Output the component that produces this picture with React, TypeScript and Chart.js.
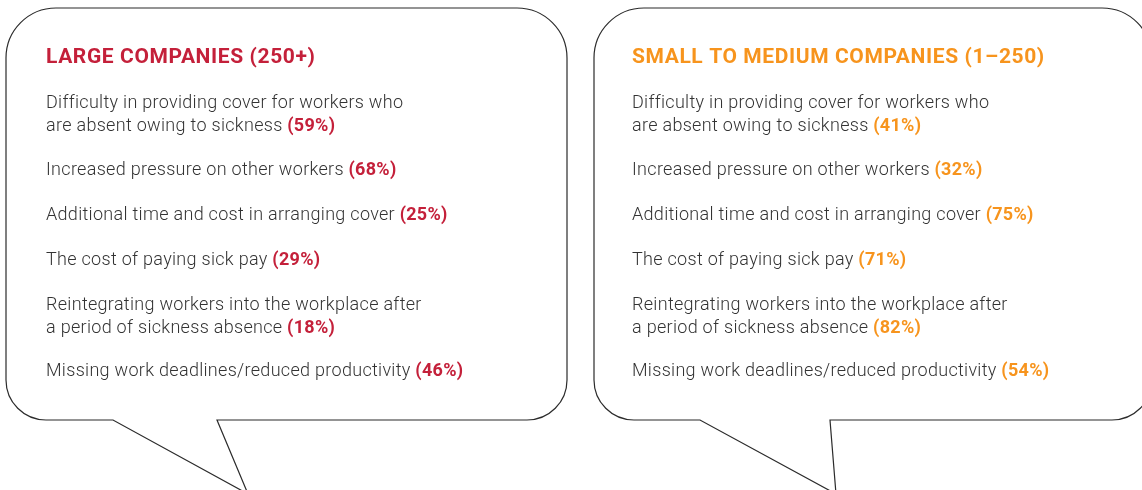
import React, { useEffect, useRef } from "react";
import { Chart, registerables } from "chart.js";

Chart.register(...registerables);

const groupTitles = ["LARGE COMPANIES (250+)", "SMALL TO MEDIUM COMPANIES (1\u2013250)"];
const itemLines: string[][] = [
  ["Difficulty in providing cover for workers who", "are absent owing to sickness"],
  ["Increased pressure on other workers"],
  ["Additional time and cost in arranging cover"],
  ["The cost of paying sick pay"],
  ["Reintegrating workers into the workplace after", "a period of sickness absence"],
  ["Missing work deadlines/reduced productivity"],
];
const largeValues = [59, 68, 25, 29, 18, 46];
const smeValues = [41, 32, 75, 71, 82, 54];
const groupColors = ["#c4203a", "#f7941d"];

const W = 1142;
const H = 490;

const bubblePlugin = {
  id: "bubbles",
  afterDraw(chart: any) {
    const ctx = chart.ctx as any;
    const sx = chart.scales.x;
    const sy = chart.scales.y;
    const px = (v: number) => sx.getPixelForValue(v);
    const py = (v: number) => sy.getPixelForValue(v);

    const bubbles = [
      { x0: 6, x1: 567, tl: 113, tr: 217, tipX: 248, textX: 46 },
      { x0: 594, x1: 1152, tl: 700, tr: 830, tipX: 836, textX: 632 },
    ];
    const y0 = 8, y1 = 420, rT = 50, rB = 40, tipY = 494;
    const seriesValues = [largeValues, smeValues];

    bubbles.forEach((b, gi) => {
      ctx.save();
      ctx.beginPath();
      ctx.moveTo(px(b.x0 + rT), py(y0));
      ctx.lineTo(px(b.x1 - rT), py(y0));
      ctx.arcTo(px(b.x1), py(y0), px(b.x1), py(y0 + rT), rT);
      ctx.lineTo(px(b.x1), py(y1 - rB));
      ctx.arcTo(px(b.x1), py(y1), px(b.x1 - rB), py(y1), rB);
      ctx.lineTo(px(b.tr), py(y1));
      ctx.lineTo(px(b.tipX), py(tipY));
      ctx.lineTo(px(b.tl), py(y1));
      ctx.lineTo(px(b.x0 + rB), py(y1));
      ctx.arcTo(px(b.x0), py(y1), px(b.x0), py(y1 - rB), rB);
      ctx.lineTo(px(b.x0), py(y0 + rT));
      ctx.arcTo(px(b.x0), py(y0), px(b.x0 + rT), py(y0), rT);
      ctx.closePath();
      ctx.fillStyle = "#ffffff";
      ctx.fill();
      ctx.lineWidth = 1.2;
      ctx.strokeStyle = "#2b2b2b";
      ctx.stroke();

      // title
      ctx.textBaseline = "alphabetic";
      ctx.textAlign = "left";
      ctx.fillStyle = groupColors[gi];
      ctx.font = "bold 21px Roboto";
      ctx.letterSpacing = "0.6px";
      ctx.fillText(groupTitles[gi], px(b.textX), py(63));

      // items
      const itemY = [108, 175, 220, 265, 310, 376];
      const lineGap = 23;
      ctx.letterSpacing = "0.3px";
      itemLines.forEach((lines, i) => {
        lines.forEach((ln, li) => {
          const y = py(itemY[i] + li * lineGap);
          ctx.font = "300 18px Roboto";
          ctx.fillStyle = "#333333";
          ctx.fillText(ln, px(b.textX), y);
          if (li === lines.length - 1) {
            const w = ctx.measureText(ln + " ").width;
            ctx.font = "bold 18px Roboto";
            ctx.fillStyle = groupColors[gi];
            ctx.fillText("(" + seriesValues[gi][i] + "%)", px(b.textX) + w, y);
          }
        });
      });
      ctx.restore();
    });
  },
};

export default function App() {
  const ref = useRef<HTMLCanvasElement>(null);
  useEffect(() => {
    document.body.style.margin = "0";
    const chart = new Chart(ref.current as HTMLCanvasElement, {
      type: "scatter",
      data: { datasets: [{ data: [], showLine: false }] },
      options: {
        animation: false,
        responsive: false,
        maintainAspectRatio: false,
        layout: { padding: 0 },
        plugins: { legend: { display: false }, tooltip: { enabled: false } },
        scales: {
          x: { type: "linear", min: 0, max: W, display: false },
          y: { type: "linear", min: 0, max: H, reverse: true, display: false },
        },
      },
      plugins: [bubblePlugin],
    } as any);
    return () => chart.destroy();
  }, []);
  return (
    <div style={{ width: W, height: H, background: "#fff" }}>
      <canvas ref={ref} width={W} height={H} style={{ display: "block" }} />
    </div>
  );
}
